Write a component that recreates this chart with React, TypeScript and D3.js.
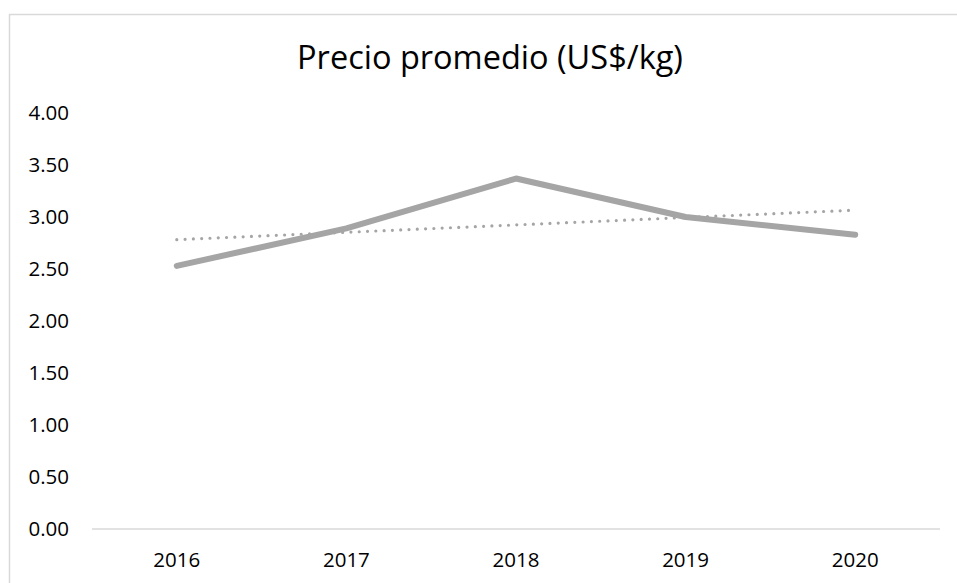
import React from 'react';
import * as d3 from 'd3';

const years = ['2016', '2017', '2018', '2019', '2020'];
const prices = [2.53, 2.89, 3.37, 3.0, 2.83];
const yTicks = [0, 0.5, 1, 1.5, 2, 2.5, 3, 3.5, 4];
const title = 'Precio promedio (US$/kg)';

const width = 957;
const height = 583;
const margin = { top: 113, right: 17, bottom: 54, left: 92 };
const font = "'Open Sans', 'Liberation Sans', sans-serif";
const gray = '#a5a5a5';
const axisGray = '#d9d9d9';

// linear trend line (least squares) over the category index
const trend = (() => {
  const n = prices.length;
  const mx = d3.mean(prices.map((_, i) => i));
  const my = d3.mean(prices);
  let num = 0;
  let den = 0;
  prices.forEach((v, i) => {
    num += (i - mx) * (v - my);
    den += (i - mx) * (i - mx);
  });
  const slope = num / den;
  return d3.range(n).map((i) => my + slope * (i - mx));
})();

const App = () => {
  const x = d3
    .scaleBand()
    .domain(years)
    .range([margin.left, width - margin.right]);
  const y = d3
    .scaleLinear()
    .domain([0, 4])
    .range([height - margin.bottom, margin.top]);

  const cx = (d) => x(d) + x.bandwidth() / 2;

  const line = d3
    .line()
    .x((d) => cx(d[0]))
    .y((d) => y(d[1]));

  const dataPts = years.map((yr, i) => [yr, prices[i]]);
  const trendPts = years.map((yr, i) => [yr, trend[i]]);

  return (
    <svg
      width={width}
      height={height}
      style={{ position: 'absolute', left: 0, top: 0, background: '#fff' }}
    >
      <rect
        x={9.5}
        y={14.5}
        width={980}
        height={600}
        fill="#fff"
        stroke={axisGray}
        strokeWidth={1.5}
      />
      <text
        x={490}
        y={69}
        textAnchor="middle"
        fontFamily={font}
        fontSize={32.5}
        fill="#000"
      >
        {title}
      </text>

      {yTicks.map((t) => (
        <text
          key={t}
          x={69}
          y={y(t)}
          dy="0.35em"
          textAnchor="end"
          fontFamily={font}
          fontSize={20.5}
          fill="#000"
        >
          {t.toFixed(2)}
        </text>
      ))}

      <line
        x1={margin.left}
        x2={width - margin.right}
        y1={y(0)}
        y2={y(0)}
        stroke={axisGray}
        strokeWidth={1.5}
      />

      {years.map((yr) => (
        <text
          key={yr}
          x={cx(yr)}
          y={560}
          dy="0.35em"
          textAnchor="middle"
          fontFamily={font}
          fontSize={20.5}
          fill="#000"
        >
          {yr}
        </text>
      ))}

      <path
        d={line(trendPts)}
        fill="none"
        stroke={gray}
        strokeWidth={3.2}
        strokeDasharray="0 8.3"
        strokeLinecap="round"
      />
      <path
        d={line(dataPts)}
        fill="none"
        stroke={gray}
        strokeWidth={6}
        strokeLinecap="round"
        strokeLinejoin="round"
      />
    </svg>
  );
};

export default App;
